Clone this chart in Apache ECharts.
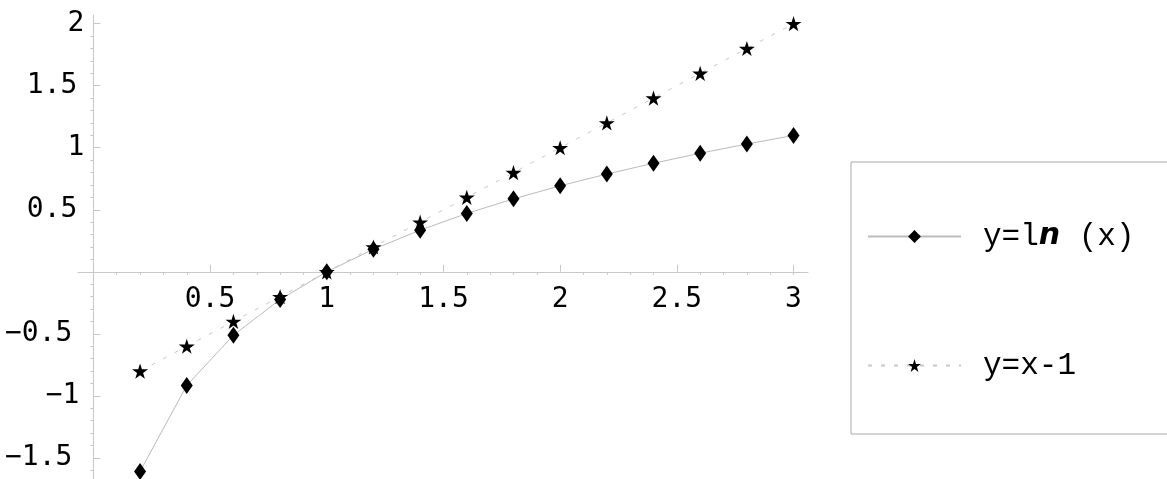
<!DOCTYPE html>
<html>
<head>
<meta charset="utf-8">
<script src="https://cdn.jsdelivr.net/npm/echarts@6/dist/echarts.min.js"></script>
<style>
html,body{margin:0;padding:0;background:#fff;}
#chart{width:1167px;height:479px;}
</style>
</head>
<body>
<div id="chart"></div>
<script>
// ---- data ----
const xValues = [0.2, 0.4, 0.6, 0.8, 1.0, 1.2, 1.4, 1.6, 1.8, 2.0, 2.2, 2.4, 2.6, 2.8, 3.0];
const lnValues = [-1.609, -0.916, -0.511, -0.223, 0.0, 0.182, 0.336, 0.470, 0.588, 0.693, 0.788, 0.875, 0.956, 1.030, 1.099];
const linValues = [-0.8, -0.6, -0.4, -0.2, 0.0, 0.2, 0.4, 0.6, 0.8, 1.0, 1.2, 1.4, 1.6, 1.8, 2.0];
const seriesNames = ['y=ln (x)', 'y=x-1'];
const xMajorTicks = [0.5, 1, 1.5, 2, 2.5, 3];
const xMinorTicks = [0.1, 0.2, 0.3, 0.4, 0.6, 0.7, 0.8, 0.9, 1.1, 1.2, 1.3, 1.4, 1.6, 1.7, 1.8, 1.9, 2.1, 2.2, 2.3, 2.4, 2.6, 2.7, 2.8, 2.9, 3.0];
const yMajorTicks = [-1.5, -1, -0.5, 0.5, 1, 1.5, 2];
const yMinorTicks = [-1.6, -1.4, -1.3, -1.2, -1.1, -0.9, -0.8, -0.7, -0.6, -0.4, -0.3, -0.2, -0.1, 0.1, 0.2, 0.3, 0.4, 0.6, 0.7, 0.8, 0.9, 1.1, 1.2, 1.3, 1.4, 1.6, 1.7, 1.8, 1.9];

const X_MIN = -0.066, X_MAX = 3.062, Y_MIN = -1.67, Y_MAX = 2.07;
const GRID = {left: 78, right: 359, top: 15, bottom: 0};
const CHART_W = 1167, CHART_H = 479;
const AXIS_COLOR = '#c8c8c8';
const FONT = 'DejaVu Sans Mono';
const FONT_SIZE = 28;
const STAR = 'path://M50,0 L61,35 L98,35 L68,57 L79,91 L50,70 L21,91 L32,57 L2,35 L39,35 Z';

const chart = echarts.init(document.getElementById('chart'), null, {renderer: 'canvas'});

function pairs(ys) { return xValues.map((x, i) => [x, ys[i]]); }
function fmt(v) { return String(v).replace('-', '\u2212'); }

// label-only axes are shifted from the grid edges onto the zero lines
const plotH = CHART_H - GRID.top - GRID.bottom;
const plotW = CHART_W - GRID.left - GRID.right;
const xLabelOffset = -((0 - Y_MIN) / (Y_MAX - Y_MIN)) * plotH;
const yLabelOffset = -((0 - X_MIN) / (X_MAX - X_MIN)) * plotW;

const txt = {fontFamily: FONT, fontSize: FONT_SIZE, color: '#000'};

const option = {
  animation: false,
  backgroundColor: '#fff',
  grid: Object.assign({containLabel: false, outerBoundsMode: 'none'}, GRID),
  xAxis: [
    {
      type: 'value', min: X_MIN, max: X_MAX,
      axisLine: {show: true, onZero: true, onZeroAxisIndex: 0, lineStyle: {color: AXIS_COLOR, width: 1}},
      axisTick: {show: true, inside: true, length: 7, customValues: xMajorTicks, lineStyle: {color: AXIS_COLOR}},
      axisLabel: {show: false},
      splitLine: {show: false}
    },
    {
      type: 'value', min: X_MIN, max: X_MAX,
      axisLine: {show: false, onZero: true, onZeroAxisIndex: 0},
      axisTick: {show: true, inside: true, length: 3, customValues: xMinorTicks, lineStyle: {color: AXIS_COLOR}},
      axisLabel: {show: false},
      splitLine: {show: false}
    },
    {
      type: 'value', min: X_MIN, max: X_MAX, position: 'bottom', offset: xLabelOffset,
      axisLine: {show: false, onZero: false},
      axisTick: {show: false},
      axisLabel: Object.assign({show: true, margin: 14, customValues: xMajorTicks, formatter: fmt}, txt),
      splitLine: {show: false}
    }
  ],
  yAxis: [
    {
      type: 'value', min: Y_MIN, max: Y_MAX,
      axisLine: {show: true, onZero: true, onZeroAxisIndex: 0, lineStyle: {color: AXIS_COLOR, width: 1}},
      axisTick: {show: true, inside: true, length: 7, customValues: yMajorTicks, lineStyle: {color: AXIS_COLOR}},
      axisLabel: {show: false},
      splitLine: {show: false}
    },
    {
      type: 'value', min: Y_MIN, max: Y_MAX,
      axisLine: {show: false, onZero: true, onZeroAxisIndex: 0},
      axisTick: {show: true, inside: true, length: 3, customValues: yMinorTicks, lineStyle: {color: AXIS_COLOR}},
      axisLabel: {show: false},
      splitLine: {show: false}
    },
    {
      type: 'value', min: Y_MIN, max: Y_MAX, position: 'left', offset: yLabelOffset,
      axisLine: {show: false, onZero: false},
      axisTick: {show: false},
      axisLabel: Object.assign({
        show: true, margin: 9, customValues: yMajorTicks,
        formatter: v => {
          const dec = !Number.isInteger(v), neg = v < 0;
          const cls = (dec ? 'd' : 'i') + (neg ? 'n' : 'p');
          return '{' + cls + '|' + fmt(v) + '}';
        },
        rich: {
          ip: Object.assign({padding: [0, 0, 0, 0]}, txt),
          in: Object.assign({padding: [0, 5, 0, 0]}, txt),
          dp: Object.assign({padding: [0, 7, 0, 0]}, txt),
          dn: Object.assign({padding: [0, 12, 0, 0]}, txt)
        }
      }, txt),
      splitLine: {show: false}
    }
  ],
  legend: {
    orient: 'vertical',
    left: 851, top: 162,
    padding: [59, 45, 53, 16],
    itemWidth: 93, itemHeight: 16, itemGap: 98,
    borderColor: '#aaaaaa', borderWidth: 1,
    data: seriesNames,
    formatter: name => name === seriesNames[0] ? 'y=l{n|n} (x)' : name,
    textStyle: {
      fontFamily: 'Liberation Mono', fontSize: 31, color: '#000',
      padding: [0, 0, 0, 17],
      rich: {
        n: {fontFamily: 'DejaVu Sans', fontStyle: 'italic', fontWeight: 'bold', fontSize: 30, color: '#000'}
      }
    }
  },
  series: [
    {
      name: seriesNames[0], type: 'line', xAxisIndex: 0, yAxisIndex: 0,
      data: pairs(lnValues),
      symbol: 'diamond', symbolSize: [12, 17],
      itemStyle: {color: '#000'},
      lineStyle: {color: '#bbbbbb', width: 1, type: 'solid'},
      clip: false, z: 3
    },
    {
      name: seriesNames[1], type: 'line', xAxisIndex: 0, yAxisIndex: 0,
      data: pairs(linValues),
      symbol: STAR, symbolSize: 16, symbolKeepAspect: true,
      itemStyle: {color: '#000'},
      lineStyle: {color: '#c8c8c8', width: 1, type: [4, 9]},
      clip: false, z: 3
    }
  ]
};
chart.setOption(option);
</script>
</body>
</html>
